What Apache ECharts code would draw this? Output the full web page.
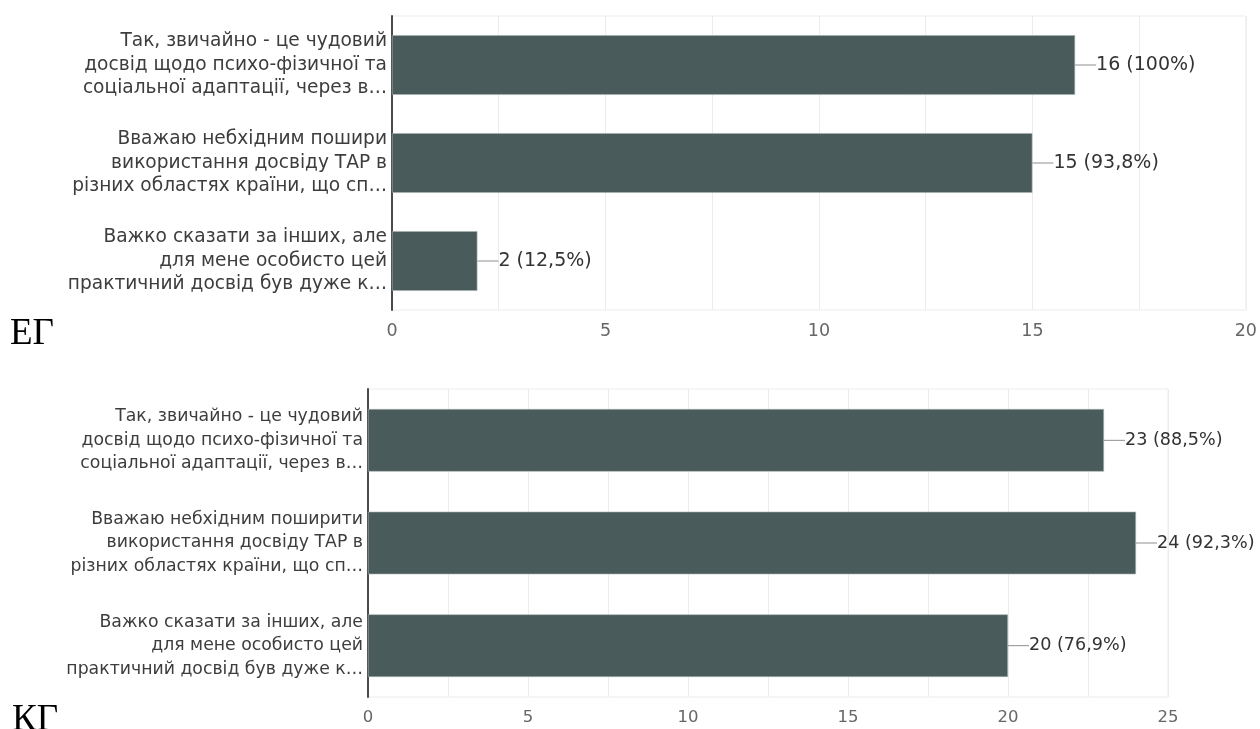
<!DOCTYPE html>
<html>
<head>
<meta charset="utf-8">
<script src="https://cdn.jsdelivr.net/npm/echarts@6/dist/echarts.min.js"></script>
<style>
  html, body { margin: 0; padding: 0; background: #fff; }
  #chart { width: 1260px; height: 729px; }
</style>
</head>
<body>
<div id="chart"></div>
<script>
// Survey answers, experimental group (ЕГ)
const egCategories = [
  'Так, звичайно - це чудовий\nдосвід щодо психо-фізичної та\nсоціальної адаптації, через в…',
  'Вважаю небхідним пошири\nвикористання досвіду ТАР в\nрізних областях країни, що сп…',
  'Важко сказати за інших, але\nдля мене особисто цей\nпрактичний досвід був дуже к…'
];
const egCounts = [16, 15, 2];
const egPercents = [100, 93.8, 12.5];
const egTicks = { min: 0, max: 20, interval: 5 };

// Survey answers, control group (КГ)
const kgCategories = [
  'Так, звичайно - це чудовий\nдосвід щодо психо-фізичної та\nсоціальної адаптації, через в…',
  'Вважаю небхідним поширити\nвикористання досвіду ТАР в\nрізних областях країни, що сп…',
  'Важко сказати за інших, але\nдля мене особисто цей\nпрактичний досвід був дуже к…'
];
const kgCounts = [23, 24, 20];
const kgPercents = [88.5, 92.3, 76.9];
const kgTicks = { min: 0, max: 25, interval: 5 };

const groupNames = ['ЕГ', 'КГ'];

const BAR = '#495b5a';
const FONT = 'DejaVu Sans';

function fmtPct(p) { return String(p).replace('.', ','); }

function valueAxis(gridIndex, ticks, size) {
  return {
    type: 'value', gridIndex,
    min: ticks.min, max: ticks.max, interval: ticks.interval,
    axisLine: { show: false },
    axisTick: { show: false },
    axisLabel: { color: '#666', fontFamily: FONT, fontSize: size, margin: 12 },
    splitLine: { show: true, lineStyle: { color: '#ececec', width: 1 } },
    minorTick: { show: false, splitNumber: 2 },
    minorSplitLine: { show: true, lineStyle: { color: '#ececec', width: 1 } }
  };
}

function categoryAxis(gridIndex, cats, size) {
  return {
    type: 'category', gridIndex, data: cats, inverse: true,
    axisLine: { show: true, lineStyle: { color: '#4a4a4a', width: 2 } },
    axisTick: { show: false },
    axisLabel: {
      color: '#3d3d3d', fontFamily: FONT, fontSize: size, lineHeight: 23.5,
      margin: 5, align: 'right'
    }
  };
}

function barSeries(idx, counts, pcts, size) {
  return {
    type: 'bar', xAxisIndex: idx, yAxisIndex: idx,
    data: counts,
    barCategoryGap: '39%',
    itemStyle: { color: BAR, borderColor: '#aab4b3', borderWidth: 0.6 },
    label: {
      show: true, position: 'right', distance: 0,
      formatter: p => '{l|}{t|' + p.value + ' (' + fmtPct(pcts[p.dataIndex]) + '%)}',
      rich: {
        l: { width: 21, height: 1, backgroundColor: '#8f8f8f', verticalAlign: 'middle' },
        t: { color: '#333', fontFamily: FONT, fontSize: size, verticalAlign: 'middle' }
      }
    },
    emphasis: { disabled: true },
    silent: true,
    animation: false
  };
}

const chart = echarts.init(document.getElementById('chart'), null, { renderer: 'canvas' });
chart.setOption({
  animation: false,
  grid: [
    { left: 392, right: 12, top: 16, height: 294, show: true, borderColor: '#ececec', borderWidth: 1 },
    { left: 368, right: 92, top: 389, height: 308, show: true, borderColor: '#ececec', borderWidth: 1 }
  ],
  xAxis: [valueAxis(0, egTicks, 17.5), valueAxis(1, kgTicks, 16.5)],
  yAxis: [categoryAxis(0, egCategories, 18.6), categoryAxis(1, kgCategories, 17.3)],
  series: [barSeries(0, egCounts, egPercents, 19), barSeries(1, kgCounts, kgPercents, 17.6)],
  graphic: [
    { type: 'text', left: 10, top: 316, style: { text: groupNames[0], fontFamily: 'Liberation Serif', fontSize: 37, fill: '#000' } },
    { type: 'text', left: 12, top: 702, style: { text: groupNames[1], fontFamily: 'Liberation Serif', fontSize: 37, fill: '#000' } }
  ]
});
</script>
</body>
</html>
